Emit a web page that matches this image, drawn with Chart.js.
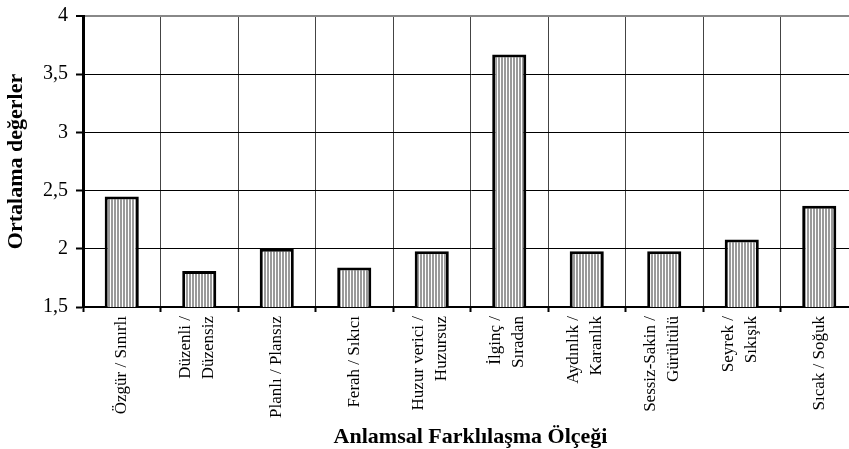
<!DOCTYPE html>
<html>
<head>
<meta charset="utf-8">
<script src="https://cdn.jsdelivr.net/npm/chart.js@4"></script>
<style>
  html, body { margin: 0; padding: 0; background: #fff; overflow: hidden; }
  canvas { display: block; }
</style>
</head>
<body>
<canvas id="graph" width="870" height="449"></canvas>
<script>
const categories = [
    ['Özgür / Sınırlı'],
    ['Düzenli /', 'Düzensiz'],
    ['Planlı / Plansız'],
    ['Ferah / Sıkıcı'],
    ['Huzur verici /', 'Huzursuz'],
    ['İlginç /', 'Sıradan'],
    ['Aydınlık /', 'Karanlık'],
    ['Sessiz-Sakin /', 'Gürültülü'],
    ['Seyrek /', 'Sıkışık'],
    ['Sıcak / Soğuk']
];
const values = [2.45, 1.81, 2.0, 1.84, 1.98, 3.67, 1.98, 1.98, 2.08, 2.37];
const yTickValues = [1.5, 2, 2.5, 3, 3.5, 4];
const yTickLabels = ['1,5', '2', '2,5', '3', '3,5', '4'];

const FONT = "'Liberation Serif', 'Times New Roman', serif";
const LABEL_SIZE = 17;
const LABEL_LH = 1.35;

// vertical stripe fill for the bars
function stripes() {
    const c = document.createElement('canvas');
    c.width = 3;
    c.height = 4;
    const g = c.getContext('2d');
    g.fillStyle = '#ffffff';
    g.fillRect(0, 0, 3, 4);
    g.fillStyle = '#9a9a9a';
    g.fillRect(0, 0, 2, 4);
    return g.createPattern(c, 'repeat');
}

// two-line labels: centre the pair of lines on the category instead of the first line
const centerLabels = {
    id: 'centerLabels',
    beforeDraw(chart) {
        const scale = chart.scales.x;
        const items = scale.getLabelItems();
        items.forEach(item => {
            if (Array.isArray(item.label) && item.label.length > 1 && !item._moved) {
                item.options.translation[0] -= (item.label.length - 1) * LABEL_SIZE * LABEL_LH / 2 + 2;
                item._moved = true;
            }
        });
    }
};

const ctx = document.getElementById('graph').getContext('2d');

const chartx = new Chart(ctx, {
    type: 'bar',
    data: {
        labels: categories,
        datasets: [{
            data: values,
            backgroundColor: stripes(),
            borderColor: '#000',
            borderWidth: 3,
            borderSkipped: false,
            categoryPercentage: 1,
            barPercentage: 0.44,
        }],
    },
    plugins: [centerLabels],
    options: {
        responsive: false,
        animation: false,
        devicePixelRatio: 1,
        layout: { padding: { top: 16, right: 12, left: 0, bottom: 0 } },
        plugins: {
            legend: { display: false },
            tooltip: { enabled: false },
        },
        scales: {
            x: {
                afterFit: function(scale) { scale.height = 142; },
                grid: {
                    offset: true,
                    color: '#444',
                    lineWidth: 1,
                    tickLength: 5,
                    tickColor: '#000',
                    tickWidth: 2,
                },
                border: { color: '#000', width: 2 },
                ticks: {
                    maxRotation: 90,
                    minRotation: 90,
                    autoSkip: false,
                    color: '#000',
                    padding: 4,
                    font: { family: FONT, size: LABEL_SIZE, lineHeight: LABEL_LH },
                },
                title: {
                    display: true,
                    text: 'Anlamsal Farklılaşma Ölçeği',
                    color: '#000',
                    font: { family: FONT, size: 22, weight: 'bold', lineHeight: 1.1 },
                    padding: { top: 0, bottom: 0 },
                },
            },
            y: {
                min: 1.5,
                max: 4,
                afterFit: function(scale) {
                    scale.width = 83;
                    scale.paddingTop = 10;
                    scale.paddingBottom = 10;
                },
                afterBuildTicks: function(scale) {
                    scale.ticks = yTickValues.map(v => ({ value: v }));
                },
                grid: {
                    color: function(c) { return c.tick && c.tick.value === 4 ? '#888' : '#000'; },
                    lineWidth: function(c) { return c.tick && c.tick.value === 4 ? 2 : 1; },
                    tickLength: 7,
                    tickColor: '#000',
                    tickWidth: 2,
                },
                border: { color: '#000', width: 3 },
                ticks: {
                    color: '#000',
                    padding: 8,
                    font: { family: FONT, size: 20 },
                    callback: function(v) {
                        const i = yTickValues.indexOf(v);
                        return i >= 0 ? yTickLabels[i] : '';
                    },
                },
                title: {
                    display: true,
                    text: 'Ortalama değerler',
                    color: '#000',
                    font: { family: FONT, size: 22, weight: 'bold', lineHeight: 1.2 },
                    padding: { top: 3, bottom: 0 },
                },
            },
        },
    },
});
</script>
</body>
</html>
